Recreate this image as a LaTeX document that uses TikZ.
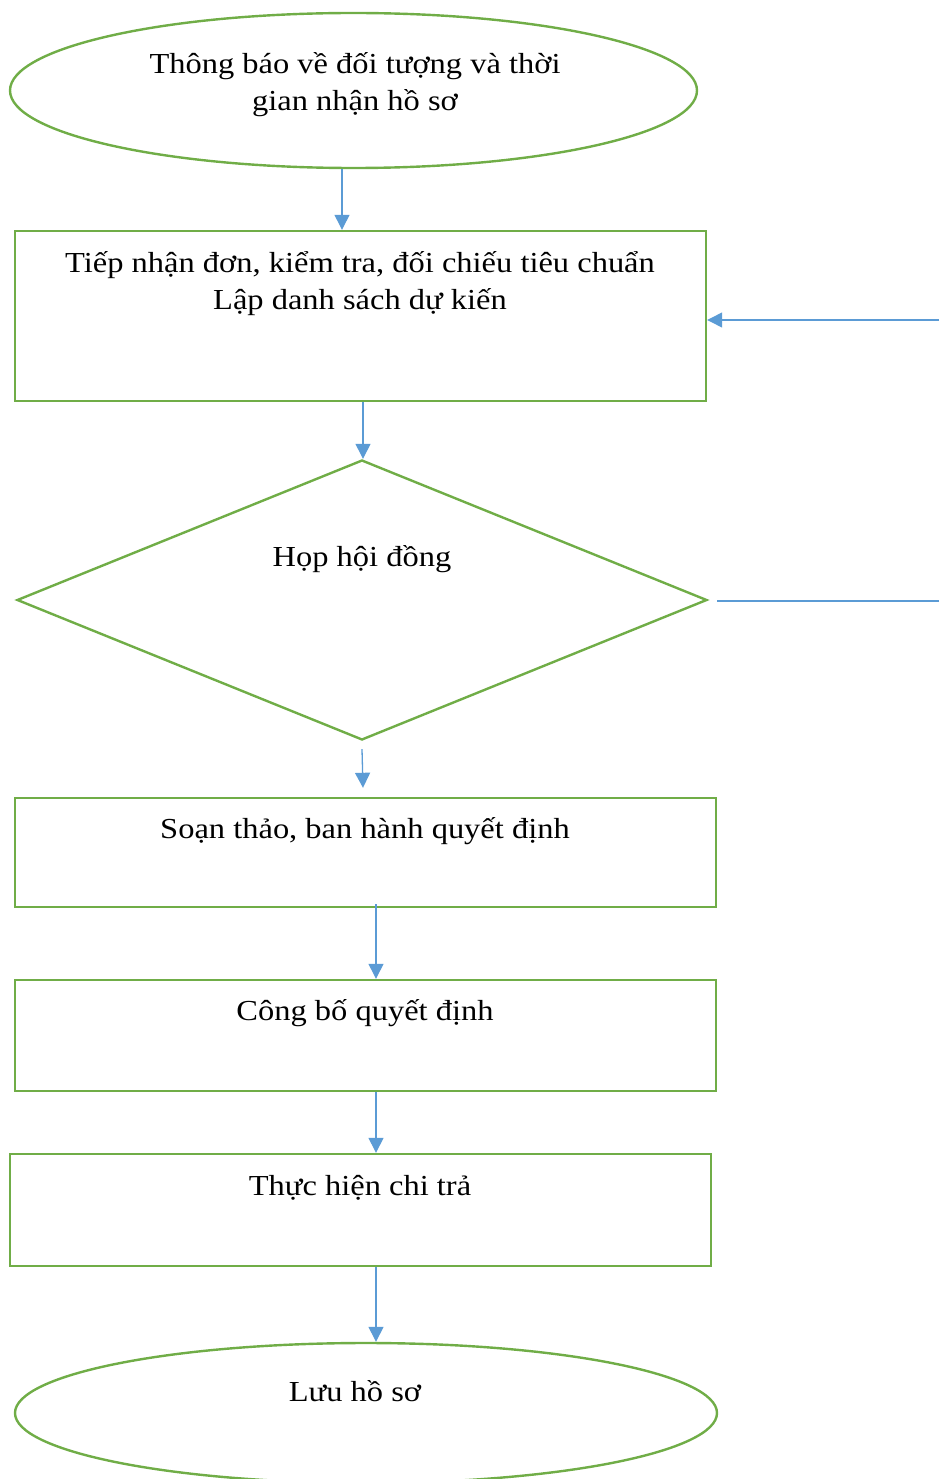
\documentclass[tikz,border=0pt]{standalone}
\usepackage{fontspec}
\setmainfont[FakeStretch=1.12]{Liberation Serif}
\usetikzlibrary{shapes.geometric,arrows.meta}
\definecolor{shapegreen}{HTML}{70AD47}
\definecolor{linkblue}{HTML}{5B9BD5}
\begin{document}
\begin{tikzpicture}[x=1pt,y=-1pt,
  outline/.style={draw=shapegreen,line width=2.4pt,inner sep=0pt},
  oval/.style={outline,ellipse},
  stepbox/.style={outline,rectangle},
  choice/.style={outline,diamond},
  label/.style={font=\fontsize{29}{37}\selectfont,align=center,inner sep=0pt},
  link/.style={draw=linkblue,line width=1.3pt,-{Triangle[width=15pt,length=15pt]}},
  plainlink/.style={draw=linkblue,line width=1.3pt}]
\useasboundingbox (0,0) rectangle (939,1479);
\clip (0,0) rectangle (939,1479);

% shapes
\node[oval,minimum width=687pt,minimum height=155pt] (start) at (353.5,90.5) {};
\node[stepbox,minimum width=691pt,minimum height=170pt] (receive) at (360.5,316) {};
\node[choice,minimum width=690pt,minimum height=280pt] (council) at (362,600) {};
\node[stepbox,minimum width=701pt,minimum height=109pt] (draft) at (365.5,852.5) {};
\node[stepbox,minimum width=701pt,minimum height=111pt] (announce) at (365.5,1035.5) {};
\node[stepbox,minimum width=701pt,minimum height=112pt] (pay) at (360.5,1210) {};
\node[oval,minimum width=702pt,minimum height=140pt] (archive) at (366,1413) {};

% texts
\node[label] (t1) at (355,84.5) {Thông báo về đối tượng và thời\\gian nhận hồ sơ};
\node[label] (t2) at (360,284) {Tiếp nhận đơn, kiểm tra, đối chiếu tiêu chuẩn\\Lập danh sách dự kiến};
\node[label,anchor=base] (t3) at (362,566) {Họp hội đồng};
\node[label,anchor=base] (t4) at (365,838) {Soạn thảo, ban hành quyết định};
\node[label,anchor=base] (t5) at (365,1020) {Công bố quyết định};
\node[label,anchor=base] (t6) at (360,1195) {Thực hiện chi trả};
\node[label,anchor=base] (t7) at (355,1401) {Lưu hồ sơ};

% side inputs
\coordinate (inA) at (939,320);
\coordinate (inB) at (939,601);

% connectors
\draw[link] ([xshift=-11.5pt]start.south) -- ([xshift=-18.5pt]receive.north);
\draw[link] ([xshift=2.5pt]receive.south) -- ([xshift=1pt]council.north);
\draw[link] ([yshift=-8pt]council.south) -- ([xshift=-2.5pt,yshift=9pt]draft.north);
\draw[link] ([xshift=10.5pt,yshift=4pt]draft.south) -- ([xshift=10.5pt]announce.north);
\draw[link] ([xshift=10.5pt]announce.south) -- ([xshift=15.5pt]pay.north);
\draw[link] ([xshift=15.5pt]pay.south) -- ([xshift=10pt]archive.north);
\draw[link] (inA) -- ([yshift=-4pt]receive.east);
\draw[plainlink] (inB) -- ([xshift=9pt,yshift=-1pt]council.east);
\end{tikzpicture}
\end{document}
